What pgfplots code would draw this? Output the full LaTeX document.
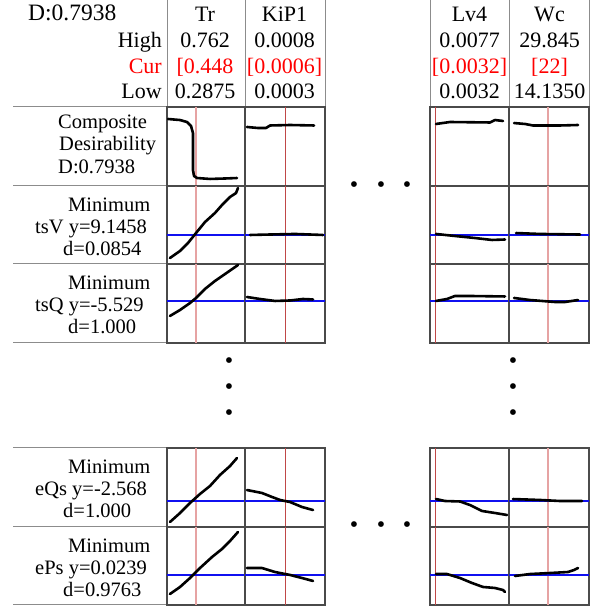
\documentclass[border=0pt]{standalone}
\usepackage{pgfplots}
\pgfplotsset{compat=1.18}
\usepackage{fontspec}
\setmainfont{Liberation Serif}
\definecolor{bordergray}{HTML}{4A4A4A}
\definecolor{sepgray}{HTML}{8C8C8C}
\definecolor{pinkred}{HTML}{E6A3A3}
\definecolor{darkred}{HTML}{C04848}
\definecolor{curblue}{HTML}{1010F0}
\newcommand\lab{\fontsize{20.5}{22}\selectfont}
\newcommand\hdr{\fontsize{22}{24}\selectfont}
\newcommand\bigD{\fontsize{23.5}{26}\selectfont}
\newcommand\dotf{\fontsize{24}{24}\selectfont}
\pgfplotsset{
  panel/.style={scale only axis, xmin=0, xmax=1, ymin=0, ymax=1,
    xtick=\empty, ytick=\empty, anchor=south west,
    axis line style={draw=bordergray, line width=1.1pt}},
  curve/.style={black, line width=2.6pt, line join=round, line cap=round},
  redA/.style={pinkred, line width=1.6pt},
  redB/.style={darkred, line width=0.9pt},
  bl/.style={curblue, line width=1.5pt},
}
\begin{document}
\begin{tikzpicture}[x=1pt,y=1pt]
\path[use as bounding box] (0,0) rectangle (600,610);
% header vertical lines
\foreach \xx in {167,245,325,430,509,589}{\draw[sepgray, line width=1pt] (\xx,503) -- (\xx,610);}
% separator lines on the left
\foreach \yy in {503,424,346,267,162,83,5}{\draw[sepgray, line width=1pt] (13,\yy) -- (167,\yy);}
% header text
\node[anchor=base west, inner sep=0, font=\bigD] at (28,589) {D:0.7938};
\node[anchor=base east, inner sep=0, font=\hdr] at (162,562) {High};
\node[anchor=base east, inner sep=0, font=\hdr, text=red] at (162,536) {Cur};
\node[anchor=base east, inner sep=0, font=\hdr] at (162,511) {Low};
\foreach \cx/\nm/\hi/\cu/\lo in {205/Tr/0.762/{[0.448}/0.2875, 284.5/KiP1/0.0008/{[0.0006]}/0.0003, 469.5/Lv4/0.0077/{[0.0032]}/0.0032, 549.5/Wc/29.845/{[22]}/14.1350}{
  \node[anchor=base, inner sep=0, font=\hdr] at (\cx,588) {\nm};
  \node[anchor=base, inner sep=0, font=\hdr] at (\cx,562) {\hi};
  \node[anchor=base, inner sep=0, font=\hdr, text=red] at (\cx,536) {\cu};
  \node[anchor=base, inner sep=0, font=\hdr] at (\cx,511) {\lo};
}
% row labels
\node[anchor=base west, inner sep=0, font=\lab] at (58,481) {Composite};
\node[anchor=base west, inner sep=0, font=\lab] at (59,459) {Desirability};
\node[anchor=base west, inner sep=0, font=\lab] at (58,436) {D:0.7938};
\node[anchor=base west, inner sep=0, font=\lab] at (68,398) {Minimum};
\node[anchor=base west, inner sep=0, font=\lab] at (35,376) {tsV y=9.1458};
\node[anchor=base west, inner sep=0, font=\lab] at (63,354) {d=0.0854};
\node[anchor=base west, inner sep=0, font=\lab] at (68,320) {Minimum};
\node[anchor=base west, inner sep=0, font=\lab] at (35,298) {tsQ y=-5.529};
\node[anchor=base west, inner sep=0, font=\lab] at (68,276) {d=1.000};
\node[anchor=base west, inner sep=0, font=\lab] at (68,136) {Minimum};
\node[anchor=base west, inner sep=0, font=\lab] at (35,114) {eQs y=-2.568};
\node[anchor=base west, inner sep=0, font=\lab] at (63,92) {d=1.000};
\node[anchor=base west, inner sep=0, font=\lab] at (68,57) {Minimum};
\node[anchor=base west, inner sep=0, font=\lab] at (35,35) {ePs y=0.0239};
\node[anchor=base west, inner sep=0, font=\lab] at (63,13) {d=0.9763};
% ellipsis dots
\foreach \xx in {354,381,407}{
  \node[inner sep=0, font=\dotf] at (\xx,423) {•};
  \node[inner sep=0, font=\dotf] at (\xx,83) {•};}
\foreach \yy in {247,221,195}{
  \node[inner sep=0, font=\dotf] at (229,\yy) {•};
  \node[inner sep=0, font=\dotf] at (513,\yy) {•};}

% ===== Row 1: Composite desirability =====
\begin{axis}[panel, at={(167pt,424pt)}, width=78pt, height=79pt]
\addplot[redA] coordinates {(0.372,0) (0.372,1)};
\addplot[curve] coordinates {(0.013,0.848) (0.167,0.835) (0.256,0.810) (0.308,0.759) (0.333,0.671) (0.333,0.456) (0.333,0.203) (0.346,0.127) (0.385,0.101) (0.551,0.089) (0.744,0.095) (0.897,0.101)};
\end{axis}
\begin{axis}[panel, at={(245pt,424pt)}, width=80pt, height=79pt]
\addplot[redB] coordinates {(0.506,0) (0.506,1)};
\addplot[curve] coordinates {(0.025,0.747) (0.163,0.734) (0.263,0.734) (0.313,0.766) (0.563,0.772) (0.863,0.766)};
\end{axis}
\begin{axis}[panel, at={(430pt,424pt)}, width=79pt, height=79pt]
\addplot[redB] coordinates {(0.063,0) (0.063,1)};
\addplot[curve] coordinates {(0.076,0.785) (0.253,0.810) (0.759,0.804) (0.823,0.835) (0.924,0.823)};
\end{axis}
\begin{axis}[panel, at={(509pt,424pt)}, width=80pt, height=79pt]
\addplot[redA] coordinates {(0.4875,0) (0.4875,1)};
\addplot[curve] coordinates {(0.063,0.797) (0.2,0.785) (0.3,0.766) (0.638,0.766) (0.863,0.772)};
\end{axis}

% ===== Row 2: tsV =====
\begin{axis}[panel, at={(167pt,346pt)}, width=78pt, height=78pt]
\addplot[redA] coordinates {(0.372,0) (0.372,1)};
\addplot[bl] coordinates {(0,0.372) (1,0.372)};
\addplot[curve] coordinates {(0.038,0.077) (0.167,0.167) (0.269,0.269) (0.372,0.397) (0.487,0.538) (0.615,0.654) (0.705,0.756) (0.808,0.859) (0.885,0.910) (0.910,0.974)};
\end{axis}
\begin{axis}[panel, at={(245pt,346pt)}, width=80pt, height=78pt]
\addplot[redB] coordinates {(0.506,0) (0.506,1)};
\addplot[bl] coordinates {(0,0.372) (1,0.372)};
\addplot[curve] coordinates {(0.063,0.372) (0.313,0.378) (0.625,0.385) (0.975,0.372)};
\end{axis}
\begin{axis}[panel, at={(430pt,346pt)}, width=79pt, height=78pt]
\addplot[redB] coordinates {(0.063,0) (0.063,1)};
\addplot[bl] coordinates {(0,0.372) (1,0.372)};
\addplot[curve] coordinates {(0.076,0.385) (0.316,0.359) (0.570,0.333) (0.785,0.308) (0.949,0.314)};
\end{axis}
\begin{axis}[panel, at={(509pt,346pt)}, width=80pt, height=78pt]
\addplot[redA] coordinates {(0.4875,0) (0.4875,1)};
\addplot[bl] coordinates {(0,0.372) (1,0.372)};
\addplot[curve] coordinates {(0.088,0.397) (0.388,0.385) (0.888,0.378)};
\end{axis}

% ===== Row 3: tsQ =====
\begin{axis}[panel, at={(167pt,267pt)}, width=78pt, height=79pt]
\addplot[redA] coordinates {(0.372,0) (0.372,1)};
\addplot[bl] coordinates {(0,0.532) (1,0.532)};
\addplot[curve] coordinates {(0.038,0.342) (0.167,0.418) (0.295,0.506) (0.372,0.570) (0.487,0.684) (0.615,0.785) (0.744,0.873) (0.910,0.987)};
\end{axis}
\begin{axis}[panel, at={(245pt,267pt)}, width=80pt, height=79pt]
\addplot[redB] coordinates {(0.506,0) (0.506,1)};
\addplot[bl] coordinates {(0,0.532) (1,0.532)};
\addplot[curve] coordinates {(0.025,0.582) (0.188,0.557) (0.375,0.532) (0.563,0.538) (0.725,0.557) (0.85,0.551)};
\end{axis}
\begin{axis}[panel, at={(430pt,267pt)}, width=79pt, height=79pt]
\addplot[redB] coordinates {(0.063,0) (0.063,1)};
\addplot[bl] coordinates {(0,0.532) (1,0.532)};
\addplot[curve] coordinates {(0.076,0.532) (0.215,0.557) (0.316,0.595) (0.506,0.595) (0.949,0.589)};
\end{axis}
\begin{axis}[panel, at={(509pt,267pt)}, width=80pt, height=79pt]
\addplot[redA] coordinates {(0.4875,0) (0.4875,1)};
\addplot[bl] coordinates {(0,0.532) (1,0.532)};
\addplot[curve] coordinates {(0.063,0.570) (0.263,0.544) (0.575,0.519) (0.7,0.519) (0.863,0.544)};
\end{axis}

% ===== Row 4: eQs =====
\begin{axis}[panel, at={(167pt,83pt)}, width=78pt, height=79pt]
\addplot[redA] coordinates {(0.372,0) (0.372,1)};
\addplot[bl] coordinates {(0,0.329) (1,0.329)};
\addplot[curve] coordinates {(0.038,0.063) (0.167,0.177) (0.295,0.304) (0.423,0.418) (0.551,0.519) (0.679,0.658) (0.808,0.772) (0.897,0.873)};
\end{axis}
\begin{axis}[panel, at={(245pt,83pt)}, width=80pt, height=79pt]
\addplot[redB] coordinates {(0.506,0) (0.506,1)};
\addplot[bl] coordinates {(0,0.329) (1,0.329)};
\addplot[curve] coordinates {(0.025,0.468) (0.213,0.430) (0.338,0.380) (0.438,0.342) (0.563,0.316) (0.713,0.253) (0.85,0.215)};
\end{axis}
\begin{axis}[panel, at={(430pt,83pt)}, width=79pt, height=79pt]
\addplot[redB] coordinates {(0.063,0) (0.063,1)};
\addplot[bl] coordinates {(0,0.329) (1,0.329)};
\addplot[curve] coordinates {(0.076,0.354) (0.190,0.329) (0.380,0.323) (0.506,0.278) (0.658,0.203) (0.823,0.177) (0.975,0.152)};
\end{axis}
\begin{axis}[panel, at={(509pt,83pt)}, width=80pt, height=79pt, axis line style={draw=black!70, line width=1.6pt}]
\addplot[redA] coordinates {(0.4875,0) (0.4875,1)};
\addplot[bl] coordinates {(0,0.329) (1,0.329)};
\addplot[curve] coordinates {(0.05,0.354) (0.388,0.342) (0.638,0.329) (0.913,0.329)};
\end{axis}

% ===== Row 5: ePs =====
\begin{axis}[panel, at={(167pt,5pt)}, width=78pt, height=78pt]
\addplot[redA] coordinates {(0.372,0) (0.372,1)};
\addplot[bl] coordinates {(0,0.385) (1,0.385)};
\addplot[curve] coordinates {(0.038,0.141) (0.167,0.231) (0.295,0.346) (0.423,0.474) (0.577,0.615) (0.705,0.718) (0.808,0.821) (0.910,0.936)};
\end{axis}
\begin{axis}[panel, at={(245pt,5pt)}, width=80pt, height=78pt]
\addplot[redB] coordinates {(0.506,0) (0.506,1)};
\addplot[bl] coordinates {(0,0.385) (1,0.385)};
\addplot[curve] coordinates {(0.025,0.474) (0.213,0.474) (0.375,0.423) (0.563,0.385) (0.713,0.346) (0.85,0.308)};
\end{axis}
\begin{axis}[panel, at={(430pt,5pt)}, width=79pt, height=78pt]
\addplot[redB] coordinates {(0.063,0) (0.063,1)};
\addplot[bl] coordinates {(0,0.385) (1,0.385)};
\addplot[curve] coordinates {(0.076,0.397) (0.215,0.397) (0.380,0.346) (0.532,0.282) (0.671,0.231) (0.823,0.218) (0.924,0.192) (0.949,0.167)};
\end{axis}
\begin{axis}[panel, at={(509pt,5pt)}, width=80pt, height=78pt, axis line style={draw=black!70, line width=1.6pt}]
\addplot[redA] coordinates {(0.4875,0) (0.4875,1)};
\addplot[bl] coordinates {(0,0.385) (1,0.385)};
\addplot[curve] coordinates {(0.075,0.372) (0.263,0.397) (0.513,0.410) (0.738,0.423) (0.813,0.449) (0.863,0.474)};
\end{axis}
\end{tikzpicture}
\end{document}
